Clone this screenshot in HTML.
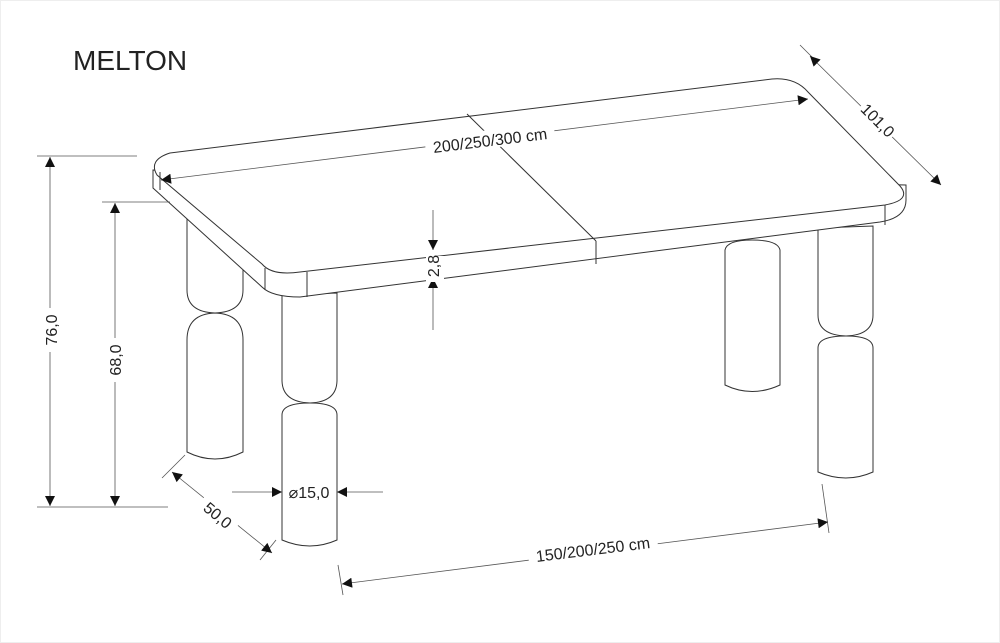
<!DOCTYPE html>
<html><head><meta charset="utf-8"><style>
html,body{margin:0;padding:0;background:#fff;}
svg{display:block;}
text{font-family:"Liberation Sans",sans-serif;fill:#222;}
</style></head><body>
<svg width="1000" height="643" viewBox="0 0 1000 643" xmlns="http://www.w3.org/2000/svg">
<defs>
<marker id="a" viewBox="0 0 10 10" refX="10" refY="5" markerWidth="14" markerHeight="10" markerUnits="userSpaceOnUse" orient="auto-start-reverse">
<path d="M0,0 L10,5 L0,10 z" fill="#111"/>
</marker>
</defs>
<rect x="0.5" y="0.5" width="999" height="642" fill="none" stroke="#eee"/>
<text x="73" y="70" font-size="28">MELTON</text>

<g fill="#fff" stroke="#333" stroke-width="1">
<path d="M187,215 V290 Q187,312 215,313 Q243,312 243,290 V215 Z"/>
<path d="M187,340 Q187,314 215,313 Q243,314 243,340 V452 Q215,466 187,452 Z"/>
<path d="M725,250 Q727,240 752,240 Q778,240 780,250 V385 Q752,398 725,385 Z"/>
<path d="M282,295 V380 Q282,402 310,403 Q337,402 337,380 V293 Z"/>
<path d="M282,415 Q282,403 310,403 Q337,403 337,415 V540 Q310,552 282,540 Z"/>
<path d="M818,228 V315 Q818,335 846,336 Q873,335 873,315 V226 Z"/>
<path d="M818,348 Q818,336 846,336 Q873,336 873,348 V472 Q846,484 818,472 Z"/>
<path d="M153,170 V188 L262,287 Q272,297 300,297 L880,222 Q906,218 906,200 V185 Z"/>
<path d="M170,153 L772,79 Q795,77 808,92 L900,186 Q912,200 885,205 L300,272 Q272,276 262,264 L157,175 Q148,160 170,153 Z"/>
</g>
<g stroke="#333" stroke-width="1" fill="none">
<line x1="265" y1="268" x2="265" y2="290"/>
<line x1="307" y1="272" x2="307" y2="297"/>
<line x1="160" y1="172" x2="160" y2="190"/>
<line x1="885" y1="205" x2="885" y2="225"/>
<line x1="467" y1="114" x2="596" y2="241"/>
<line x1="596" y1="241" x2="596" y2="264"/>
</g>

<g stroke="#555" stroke-width="0.8" fill="none">
<line x1="37" y1="156" x2="137" y2="156"/>
<line x1="37" y1="507" x2="168" y2="507"/>
<line x1="102" y1="202" x2="170" y2="202"/>
<line x1="50" y1="157" x2="50" y2="506" marker-start="url(#a)" marker-end="url(#a)"/>
<line x1="115" y1="203" x2="115" y2="506" marker-start="url(#a)" marker-end="url(#a)"/>
<line x1="161" y1="180" x2="808" y2="99" marker-start="url(#a)" marker-end="url(#a)"/>
<line x1="800" y1="45" x2="812" y2="57"/>
<line x1="810" y1="56" x2="941" y2="185" marker-start="url(#a)" marker-end="url(#a)"/>
<line x1="433" y1="210" x2="433" y2="250" marker-end="url(#a)"/>
<line x1="433" y1="330" x2="433" y2="278" marker-end="url(#a)"/>
<line x1="232" y1="492" x2="282" y2="492" marker-end="url(#a)"/>
<line x1="383" y1="492" x2="337" y2="492" marker-end="url(#a)"/>
<line x1="185" y1="455" x2="162" y2="478"/>
<line x1="276" y1="540" x2="260" y2="560"/>
<line x1="172" y1="472" x2="272" y2="553" marker-start="url(#a)" marker-end="url(#a)"/>
<line x1="822" y1="484" x2="829" y2="533"/>
<line x1="338" y1="565" x2="343" y2="595"/>
<line x1="342" y1="584" x2="828" y2="522" marker-start="url(#a)" marker-end="url(#a)"/>
</g>
<g font-size="16">
<rect x="425" y="130" width="130" height="18" fill="#fff" transform="rotate(-7 490 140)"/>
<text x="490" y="146" text-anchor="middle" transform="rotate(-7 490 140)">200/250/300 cm</text>
<rect x="856" y="110" width="44" height="18" fill="#fff" transform="rotate(45 878 120)"/>
<text x="878" y="126" text-anchor="middle" transform="rotate(45 878 120)">101,0</text>
<rect x="38" y="308" width="24" height="44" fill="#fff"/>
<text x="57" y="330" text-anchor="middle" transform="rotate(-90 57 330)">76,0</text>
<rect x="103" y="338" width="24" height="44" fill="#fff"/>
<text x="121" y="360" text-anchor="middle" transform="rotate(-90 121 360)">68,0</text>
<rect x="426" y="256" width="18" height="26" fill="#fff"/>
<text x="439" y="266" text-anchor="middle" transform="rotate(-90 439 266)">2,8</text>
<text x="309" y="498" text-anchor="middle">⌀15,0</text>
<rect x="196" y="506" width="44" height="18" fill="#fff" transform="rotate(40 218 515)"/>
<text x="218" y="521" text-anchor="middle" transform="rotate(40 218 515)">50,0</text>
<rect x="528" y="540" width="130" height="18" fill="#fff" transform="rotate(-7 593 550)"/>
<text x="593" y="555" text-anchor="middle" transform="rotate(-7 593 550)">150/200/250 cm</text>
</g>
</svg>
</body></html>
